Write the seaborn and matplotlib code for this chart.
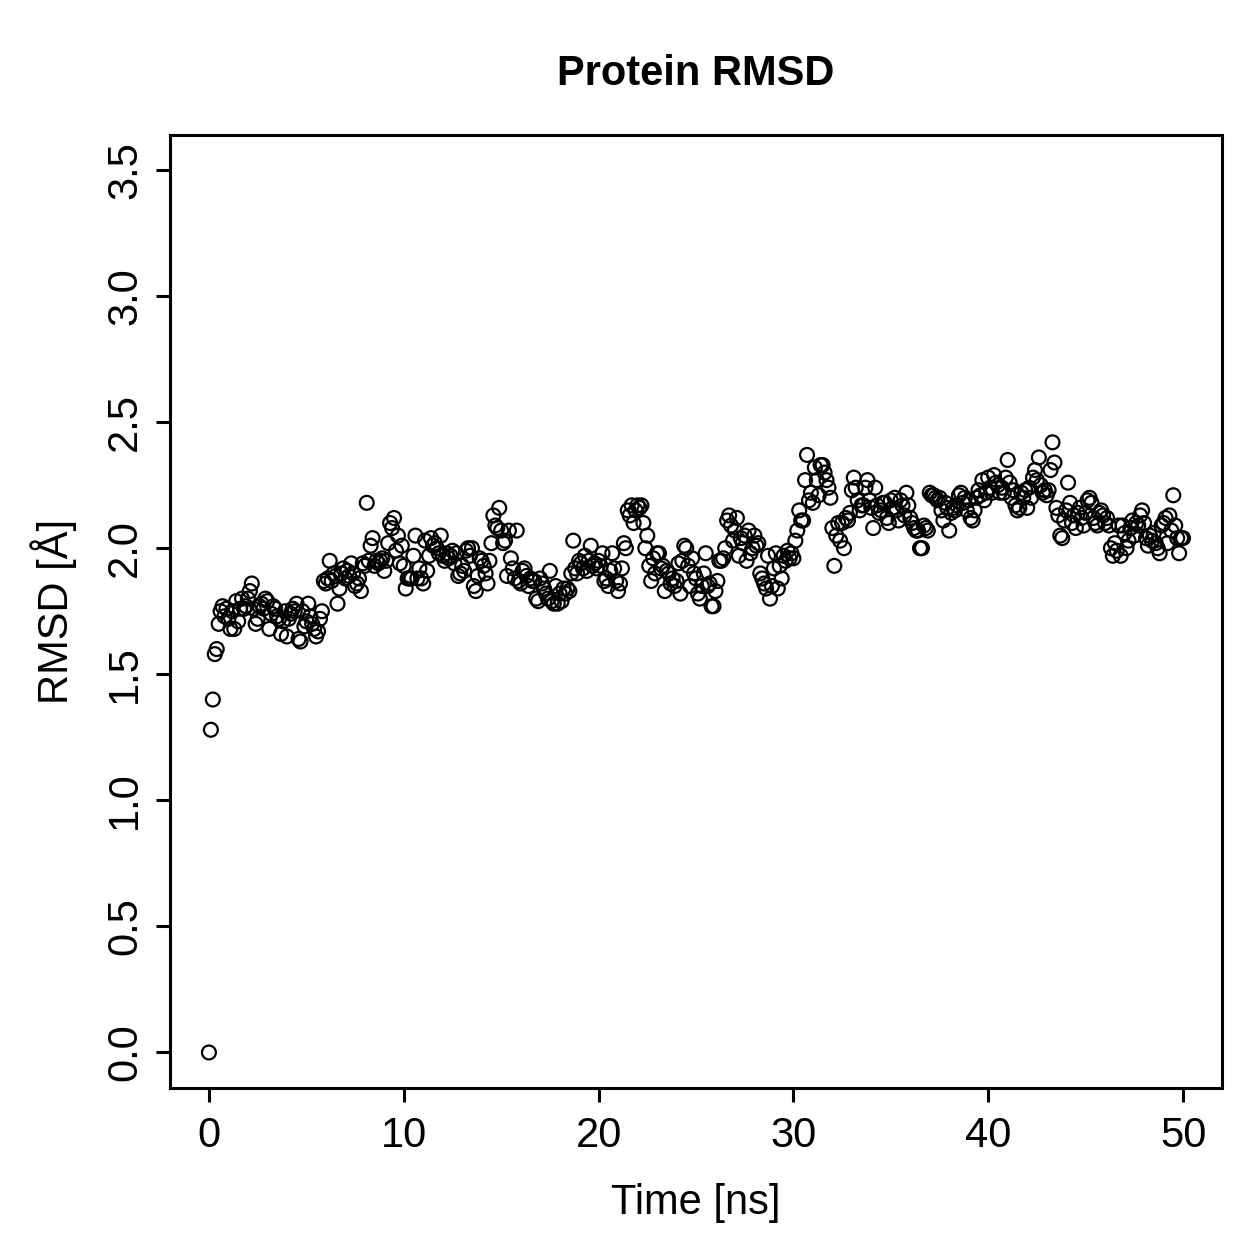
import numpy as np
import pandas as pd
import seaborn as sns
import matplotlib.pyplot as plt

# rmsd values, one row per ns (10 frames each, 0.1 ns step)
rmsd_0_10 = [
    0.00, 1.28, 1.40, 1.58, 1.60, 1.70, 1.75, 1.77, 1.73, 1.76,
    1.72, 1.68, 1.75, 1.68, 1.79, 1.71, 1.76, 1.80, 1.76, 1.77,
    1.80, 1.83, 1.86, 1.76, 1.70, 1.72, 1.77, 1.78, 1.76, 1.80,
    1.79, 1.68, 1.74, 1.77, 1.76, 1.73, 1.72, 1.66, 1.71, 1.75,
    1.65, 1.72, 1.74, 1.76, 1.75, 1.78, 1.64, 1.63, 1.75, 1.69,
    1.71, 1.78, 1.73, 1.70, 1.68, 1.65, 1.67, 1.72, 1.75, 1.87,
    1.86, 1.88, 1.95, 1.87, 1.90, 1.89, 1.78, 1.84, 1.90, 1.92,
    1.88, 1.91, 1.89, 1.94, 1.90, 1.85, 1.86, 1.88, 1.83, 1.94,
    1.93, 2.18, 1.95, 2.01, 2.04, 1.93, 1.95, 1.94, 1.95, 1.96,
    1.91, 1.95, 2.02, 2.10, 2.08, 2.12, 1.99, 2.05, 1.94, 2.01,
]
rmsd_10_20 = [
    1.93, 1.84, 1.88, 1.88, 1.88, 1.97, 2.05, 1.88, 1.92, 1.88,
    1.86, 2.03, 1.91, 1.97, 2.04, 2.01, 2.02, 2.00, 1.98, 2.05,
    1.97, 1.95, 1.98, 1.96, 1.97, 1.99, 1.94, 1.98, 1.89, 1.90,
    1.93, 1.91, 1.99, 2.00, 1.97, 2.00, 1.85, 1.83, 1.89, 1.96,
    1.95, 1.93, 1.90, 1.86, 1.95, 2.02, 2.13, 2.09, 2.08, 2.16,
    2.07, 2.02, 2.03, 1.89, 2.07, 1.96, 1.92, 1.88, 2.07, 1.87,
    1.86, 1.91, 1.92, 1.89, 1.85, 1.88, 1.87, 1.87, 1.80, 1.79,
    1.88, 1.86, 1.84, 1.82, 1.80, 1.91, 1.79, 1.78, 1.85, 1.78,
    1.82, 1.79, 1.84, 1.82, 1.84, 1.83, 1.90, 2.03, 1.92, 1.90,
    1.95, 1.94, 1.92, 1.97, 1.91, 1.95, 2.01, 1.93, 1.94, 1.92,
]
rmsd_20_30 = [
    1.95, 1.93, 1.98, 1.87, 1.88, 1.85, 1.91, 1.98, 1.92, 1.87,
    1.83, 1.86, 1.92, 2.02, 2.00, 2.15, 2.13, 2.17, 2.10, 2.15,
    2.17, 2.16, 2.17, 2.10, 2.00, 2.05, 1.93, 1.87, 1.96, 1.90,
    1.98, 1.98, 1.92, 1.93, 1.83, 1.91, 1.90, 1.86, 1.88, 1.85,
    1.87, 1.94, 1.82, 1.95, 2.01, 2.00, 1.93, 1.85, 1.96, 1.90,
    1.88, 1.82, 1.80, 1.85, 1.90, 1.98, 1.85, 1.86, 1.77, 1.77,
    1.83, 1.87, 1.95, 1.95, 1.96, 2.00, 2.11, 2.13, 2.09, 2.03,
    2.07, 2.12, 1.97, 2.04, 2.02, 2.05, 1.95, 2.07, 1.98, 2.00,
    2.05, 2.01, 2.02, 1.90, 1.88, 1.86, 1.84, 1.97, 1.80, 1.85,
    1.92, 1.98, 1.84, 1.93, 1.88, 1.97, 1.95, 1.99, 1.96, 1.98,
]
rmsd_30_40 = [
    1.96, 2.03, 2.07, 2.15, 2.11, 2.11, 2.27, 2.37, 2.19, 2.22,
    2.18, 2.32, 2.27, 2.21, 2.33, 2.33, 2.30, 2.27, 2.24, 2.20,
    2.08, 1.93, 2.05, 2.10, 2.03, 2.10, 2.00, 2.12, 2.11, 2.14,
    2.23, 2.28, 2.24, 2.19, 2.15, 2.17, 2.17, 2.24, 2.27, 2.19,
    2.16, 2.08, 2.24, 2.17, 2.14, 2.15, 2.18, 2.18, 2.12, 2.10,
    2.19, 2.16, 2.20, 2.15, 2.11, 2.19, 2.17, 2.13, 2.22, 2.17,
    2.12, 2.10, 2.08, 2.07, 2.07, 2.00, 2.00, 2.09, 2.08, 2.07,
    2.22, 2.21, 2.21, 2.20, 2.19, 2.20, 2.15, 2.11, 2.18, 2.16,
    2.07, 2.14, 2.16, 2.15, 2.17, 2.21, 2.22, 2.18, 2.20, 2.15,
    2.19, 2.12, 2.11, 2.15, 2.20, 2.23, 2.21, 2.27, 2.19, 2.22,
]
rmsd_40_50 = [
    2.28, 2.24, 2.22, 2.29, 2.26, 2.25, 2.22, 2.24, 2.22, 2.28,
    2.35, 2.26, 2.20, 2.23, 2.17, 2.15, 2.16, 2.22, 2.20, 2.23,
    2.16, 2.24, 2.20, 2.28, 2.31, 2.27, 2.36, 2.25, 2.22, 2.23,
    2.21, 2.23, 2.31, 2.42, 2.34, 2.16, 2.13, 2.05, 2.04, 2.11,
    2.15, 2.26, 2.18, 2.10, 2.13, 2.08, 2.14, 2.16, 2.12, 2.09,
    2.14, 2.19, 2.20, 2.18, 2.12, 2.10, 2.09, 2.14, 2.15, 2.13,
    2.10, 2.12, 2.09, 2.00, 1.97, 2.02, 1.99, 2.09, 1.97, 2.09,
    2.06, 2.00, 2.03, 2.08, 2.11, 2.05, 2.10, 2.09, 2.13, 2.15,
    2.10, 2.04, 2.01, 2.05, 2.03, 2.06, 2.02, 2.00, 1.98, 2.09,
    2.10, 2.12, 2.02, 2.13, 2.07, 2.21, 2.09, 2.04, 1.98, 2.04,
    2.04,
]

rmsd = rmsd_0_10 + rmsd_10_20 + rmsd_20_30 + rmsd_30_40 + rmsd_40_50
time_ns = np.round(np.arange(len(rmsd)) * 0.1, 1)

df = pd.DataFrame({'time': time_ns, 'rmsd': rmsd})

x_ticks = [0, 10, 20, 30, 40, 50]
y_ticks = [0.0, 0.5, 1.0, 1.5, 2.0, 2.5, 3.0, 3.5]

sns.set_style('ticks')
plt.rcParams['font.family'] = ['Liberation Sans', 'DejaVu Sans']
plt.rcParams['text.color'] = 'black'
plt.rcParams['axes.labelcolor'] = 'black'

fig = plt.figure(figsize=(12.59, 12.59), dpi=100)
ax = fig.add_axes([0.135, 0.136, 0.8356, 0.757])

sns.scatterplot(data=df, x='time', y='rmsd', ax=ax, marker='o', s=100,
                fc='none', ec='black', linewidth=1.6, legend=False)

# R style 4% padding
ax.set_xlim(-2, 52)
ax.set_ylim(-0.14, 3.64)
ax.set_xticks(x_ticks)
ax.set_xticklabels([str(t) for t in x_ticks])
ax.set_yticks(y_ticks)
ax.set_yticklabels([f'{t:.1f}' for t in y_ticks], rotation=90, va='center')

for s in ax.spines.values():
    s.set_visible(True)
    s.set_linewidth(2.2)
    s.set_color('black')

ax.tick_params(axis='both', direction='out', length=10, width=2.2,
               labelsize=30, colors='black')
ax.tick_params(axis='x', pad=10)
ax.tick_params(axis='y', pad=8)

ax.set_title('Protein RMSD', fontsize=30, fontweight='bold', pad=36, color='black')
ax.set_xlabel('Time [ns]', fontsize=30, labelpad=20)
ax.set_ylabel('RMSD [Å]', fontsize=30, labelpad=20)

fig.savefig('out.png', dpi=100, facecolor='white')
